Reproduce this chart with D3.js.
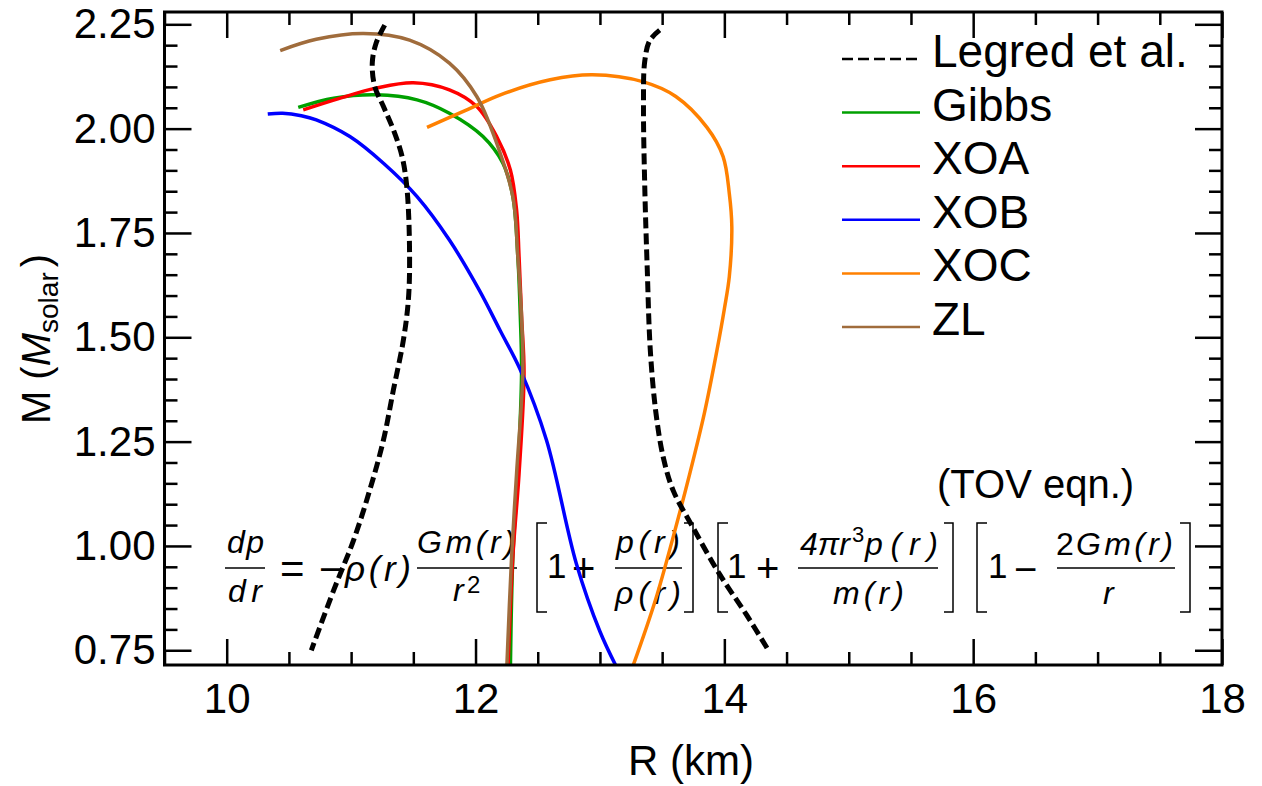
<!DOCTYPE html>
<html>
<head>
<meta charset="utf-8">
<script src="https://cdnjs.cloudflare.com/ajax/libs/d3/7.8.5/d3.min.js"></script>
<style>
  body { margin: 0; background: #fff; }
  svg text { font-family: "Liberation Sans", Arial, Helvetica, sans-serif; fill: #000; }
</style>
</head>
<body>
<div id="chartArea"></div>
<script>
const width = 1262;
const height = 786;

// mass-radius curves, [R (km), M (Msolar)]
const gibbs = [[10.575,2.051],[10.86,2.073],[11.20,2.081],[11.53,2.069],[11.79,2.037],[12.06,1.981],[12.22,1.917],[12.30,1.837],[12.34,1.693],[12.36,1.55],[12.37,1.414],[12.34,1.174],[12.30,0.974],[12.28,0.70]];
const xoa = [[10.615,2.045],[10.90,2.072],[11.20,2.097],[11.50,2.110],[11.79,2.093],[12.01,2.053],[12.17,1.981],[12.28,1.901],[12.33,1.805],[12.35,1.693],[12.37,1.55],[12.39,1.414],[12.35,1.174],[12.30,0.974],[12.26,0.70]];
const xob = [[10.33,2.035],[10.45,2.037],[10.60,2.031],[10.72,2.021],[10.99,1.981],[11.26,1.917],[11.53,1.837],[11.79,1.733],[12.03,1.613],[12.20,1.515],[12.36,1.422],[12.57,1.254],[12.81,0.958],[13.00,0.795],[13.15,0.70]];
const xoc = [[11.61,2.003],[11.93,2.045],[12.20,2.081],[12.60,2.117],[12.94,2.129],[13.35,2.112],[13.61,2.077],[13.86,2.003],[13.99,1.933],[14.04,1.844],[14.06,1.765],[14.04,1.646],[14.00,1.568],[13.94,1.468],[13.84,1.319],[13.72,1.171],[13.59,1.023],[13.45,0.874],[13.27,0.716],[13.25,0.70]];
const zl = [[10.43,2.187],[10.72,2.214],[11.10,2.228],[11.47,2.212],[11.79,2.157],[12.01,2.077],[12.17,1.965],[12.30,1.837],[12.34,1.693],[12.37,1.55],[12.38,1.414],[12.33,1.174],[12.29,0.974],[12.25,0.70]];
const legredLeft = [[11.27,2.248],[11.20,2.204],[11.17,2.157],[11.19,2.101],[11.26,2.053],[11.34,1.997],[11.41,1.933],[11.45,1.853],[11.47,1.693],[11.46,1.589],[11.42,1.493],[11.34,1.374],[11.26,1.254],[11.15,1.134],[11.02,1.014],[10.86,0.894],[10.68,0.750]];
const legredRight = [[13.48,2.236],[13.40,2.211],[13.36,2.161],[13.35,2.062],[13.36,1.864],[13.38,1.666],[13.405,1.468],[13.45,1.319],[13.51,1.211],[13.59,1.132],[13.75,1.043],[13.96,0.933],[14.18,0.834],[14.36,0.747]];

const seriesNames = ["Legred et al.", "Gibbs", "XOA", "XOB", "XOC", "ZL"];
const seriesColors = ["#000000", "#00a000", "#ff0000", "#0000ff", "#ff8000", "#a06c3c"];

const xMajor = [10, 12, 14, 16, 18];
const yMajor = [0.75, 1.00, 1.25, 1.50, 1.75, 2.00, 2.25];

const svg = d3.select("#chartArea")
    .append("svg")
    .attr("width", width)
    .attr("height", height);

const x = d3.scaleLinear().domain([9.5, 18]).range([164.5, 1222]);
const y = d3.scaleLinear().domain([0.7147, 2.2795]).range([665, 12]);

const xMinor = d3.range(9.5, 18.01, 0.5).filter(v => !xMajor.includes(v));
const yMinor = d3.range(0.75, 2.2796, 0.05).map(v => +v.toFixed(2)).filter(v => !yMajor.includes(v));

svg.append("clipPath").attr("id", "plotClip")
    .append("rect")
    .attr("x", x(9.5)).attr("y", y(2.2795))
    .attr("width", x(18) - x(9.5)).attr("height", y(0.7147) - y(2.2795));

// equation (behind the curves)
const eq = svg.append("g").attr("class", "equation");

function eqText(str, x0, base, w, size, italic) {
    const t = eq.append("text")
        .attr("x", x0).attr("y", base)
        .style("font-size", size + "px")
        .style("font-style", italic ? "italic" : "normal")
        .text(str);
    if (w) t.attr("textLength", w).attr("lengthAdjust", "spacing");
    return t;
}
function eqBar(x0, x1) {
    eq.append("line").attr("x1", x0).attr("x2", x1).attr("y1", 568).attr("y2", 568)
        .attr("stroke", "#000").attr("stroke-width", 1.4);
}
function eqBracket(x0, x1, open) {
    const xs = open ? x0 : x1, xe = open ? x1 : x0;
    eq.append("path")
        .attr("d", `M${xe},523 L${xs},523 L${xs},612 L${xe},612`)
        .attr("fill", "none").attr("stroke", "#000").attr("stroke-width", 1.5);
}

eqText("dp", 227, 553, 37, 32, true);
eqBar(225, 265);
eqText("dr", 228, 602, 34, 32, true);
eqText("=", 280, 583, null, 42, false);
eqText("\u2212", 319, 583, null, 40, false);
eqText("\u03c1(r)", 345, 581, 66, 35, true);
eqText("Gm(r)", 417, 553, 98, 32, true);
eqBar(417, 517);
eqText("r", 453, 601, null, 32, true);
eqText("2", 467, 593, null, 24, false);
eqBracket(537, 547, true);
eqText("1", 547, 578, null, 35, false);
eqText("+", 572, 582, null, 40, false);
eqText("p(r)", 616, 553, 64, 32, true);
eqBar(615, 682);
eqText("\u03c1(r)", 615, 604, 66, 32, true);
eqBracket(684, 693, false);
eqBracket(718, 728, true);
eqText("1", 727, 578, null, 35, false);
eqText("+", 756, 582, null, 40, false);
eqText("4\u03c0r", 800, 555, 50, 32, true);
eqText("3", 852, 542, null, 22, false);
eqText("p(r)", 865, 555, 73, 32, true);
eqBar(798, 938);
eqText("m(r)", 833, 604, 71, 32, true);
eqBracket(944, 953, false);
eqBracket(977, 987, true);
eqText("1", 988, 578, null, 35, false);
eqText("\u2212", 1014, 583, null, 40, false);
eqText("2", 1056, 555, null, 32, false);
eqText("Gm(r)", 1076, 555, 97, 32, true);
eqBar(1057, 1175);
eqText("r", 1103, 604, null, 32, true);
eqBracket(1180, 1190, false);

svg.append("text")
    .attr("x", 937).attr("y", 498)
    .style("font-size", "40px")
    .text("(TOV eqn.)");

// curves
const line = d3.line()
    .x(d => x(d[0]))
    .y(d => y(d[1]))
    .curve(d3.curveCatmullRom.alpha(0.5));

const plot = svg.append("g").attr("clip-path", "url(#plotClip)");

[gibbs, xoa, xob, xoc, zl].forEach((data, i) => {
    plot.append("path")
        .datum(data)
        .attr("d", line)
        .attr("fill", "none")
        .attr("stroke", seriesColors[i + 1])
        .attr("stroke-width", 3.5)
        .attr("stroke-linejoin", "round");
});

[legredLeft, legredRight].forEach(data => {
    plot.append("path")
        .datum(data)
        .attr("d", line)
        .attr("fill", "none")
        .attr("stroke", seriesColors[0])
        .attr("stroke-width", 5)
        .attr("stroke-dasharray", "11,5");
});

// axes: ticks inside on all four sides
function styleAxis(g) {
    g.select(".domain").remove();
    g.selectAll(".tick line").attr("stroke", "#000").attr("stroke-width", 2.5);
    g.selectAll(".tick text").style("font-size", "42px").attr("fill", "#000")
        .style("font-family", '"Liberation Sans", Arial, sans-serif');
}
const fmtY = d3.format(".2f");

svg.append("g").attr("transform", `translate(0,${y(0.7147)})`)
    .call(d3.axisBottom(x).tickValues(xMajor).tickSize(-26).tickPadding(18).tickFormat(d3.format("d")))
    .call(styleAxis);
svg.append("g").attr("transform", `translate(0,${y(0.7147)})`)
    .call(d3.axisBottom(x).tickValues(xMinor).tickSize(-13).tickFormat(""))
    .call(styleAxis);
svg.append("g").attr("transform", `translate(0,${y(2.2795)})`)
    .call(d3.axisTop(x).tickValues(xMajor).tickSize(-26).tickFormat(""))
    .call(styleAxis);
svg.append("g").attr("transform", `translate(0,${y(2.2795)})`)
    .call(d3.axisTop(x).tickValues(xMinor).tickSize(-13).tickFormat(""))
    .call(styleAxis);

svg.append("g").attr("transform", `translate(${x(9.5)},0)`)
    .call(d3.axisLeft(y).tickValues(yMajor).tickSize(-27).tickPadding(9).tickFormat(fmtY))
    .call(styleAxis);
svg.append("g").attr("transform", `translate(${x(9.5)},0)`)
    .call(d3.axisLeft(y).tickValues(yMinor).tickSize(-13).tickFormat(""))
    .call(styleAxis);
svg.append("g").attr("transform", `translate(${x(18)},0)`)
    .call(d3.axisRight(y).tickValues(yMajor).tickSize(-27).tickFormat(""))
    .call(styleAxis);
svg.append("g").attr("transform", `translate(${x(18)},0)`)
    .call(d3.axisRight(y).tickValues(yMinor).tickSize(-13).tickFormat(""))
    .call(styleAxis);

svg.append("rect")
    .attr("x", x(9.5)).attr("y", y(2.2795))
    .attr("width", x(18) - x(9.5)).attr("height", y(0.7147) - y(2.2795))
    .attr("fill", "none").attr("stroke", "#000").attr("stroke-width", 3);

// axis titles
svg.append("text")
    .attr("x", 691).attr("y", 775)
    .attr("text-anchor", "middle")
    .style("font-size", "42px")
    .text("R (km)");

const yTitle = svg.append("text")
    .attr("transform", "translate(50,339) rotate(-90)")
    .attr("text-anchor", "middle")
    .style("font-size", "40px");
yTitle.append("tspan").text("M (");
yTitle.append("tspan").style("font-style", "italic").text("M");
yTitle.append("tspan").style("font-size", "28px").attr("dy", 8).text("solar");
yTitle.append("tspan").attr("dy", -8).attr("dx", 5).text(")");

// legend
const legend = svg.append("g");
seriesNames.forEach((name, i) => {
    const ly = 59 + i * 53.6;
    legend.append("line")
        .attr("x1", 842).attr("x2", 920)
        .attr("y1", ly).attr("y2", ly)
        .attr("stroke", seriesColors[i])
        .attr("stroke-width", 2.5)
        .attr("stroke-dasharray", i === 0 ? "11,5" : null);
    legend.append("text")
        .attr("x", 932).attr("y", ly + 8)
        .style("font-size", "46px")
        .text(name);
});
</script>
</body>
</html>
